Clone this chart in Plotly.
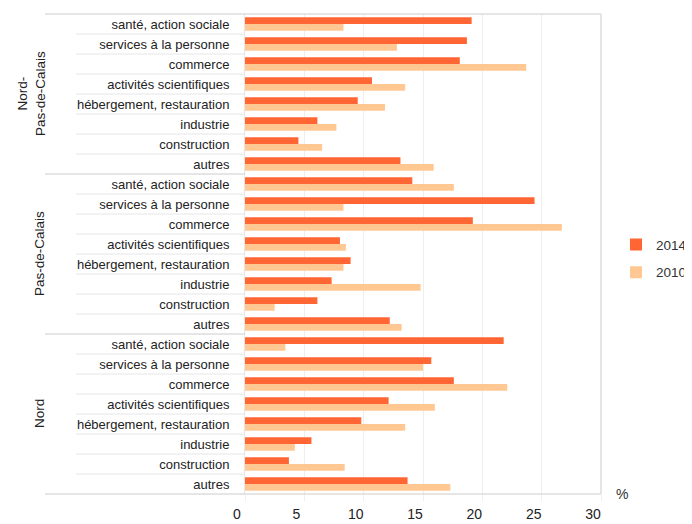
import plotly.graph_objects as go

groups = ["Nord-<br>Pas-de-Calais", "Pas-de-Calais", "Nord"]
group_keys = ["NPDC", "PDC", "N"]
sectors = ["santé, action sociale", "services à la personne", "commerce",
           "activités scientifiques", "hébergement, restauration", "industrie",
           "construction", "autres"]

npdc_2014 = [19.1, 18.7, 18.1, 10.7, 9.5, 6.1, 4.5, 13.1]
npdc_2010 = [8.3, 12.8, 23.7, 13.5, 11.8, 7.7, 6.5, 15.9]
pdc_2014 = [14.1, 24.4, 19.2, 8.0, 8.9, 7.3, 6.1, 12.2]
pdc_2010 = [17.6, 8.3, 26.7, 8.5, 8.3, 14.8, 2.5, 13.2]
nord_2014 = [21.8, 15.7, 17.6, 12.1, 9.8, 5.6, 3.7, 13.7]
nord_2010 = [3.4, 15.0, 22.1, 16.0, 13.5, 4.2, 8.4, 17.3]

x_ticks = [0, 5, 10, 15, 20, 25, 30]

cats = [f"{g}|{s}" for g in group_keys for s in sectors]
labels = [s for g in group_keys for s in sectors]
v2014 = npdc_2014 + pdc_2014 + nord_2014
v2010 = npdc_2010 + pdc_2010 + nord_2010

C2014 = "#ff6633"
C2010 = "#ffc893"
FONT = "Liberation Sans"

fig = go.Figure()
fig.add_trace(go.Bar(y=cats, x=v2014, orientation="h", name="2014",
                     marker=dict(color=C2014, line=dict(width=0)), legendgroup="a"))
fig.add_trace(go.Bar(y=cats, x=v2010, orientation="h", name="2010",
                     marker=dict(color=C2010, line=dict(width=0)), legendgroup="b"))

# page has an 8px body margin; figure coordinates = page - 8
OFF = 8
W, H = 684, 516
L, T = 245 - OFF, 14 - OFF
R = W - (601 - OFF)
B = H - (494 - OFF)
pw = W - L - R

def xp(page_x):
    return (page_x - OFF - L) / pw

shapes = []
n = len(cats)
for i in range(1, n):
    is_group = (i % len(sectors) == 0)
    shapes.append(dict(type="line", xref="paper", yref="y",
                       x0=xp(45 if is_group else 76), x1=0,
                       y0=i - 0.5, y1=i - 0.5,
                       line=dict(color="#cccccc" if is_group else "#e6e6e6", width=1)))
for yv in (0, 1):
    shapes.append(dict(type="line", xref="paper", yref="paper",
                       x0=xp(45), x1=1, y0=yv, y1=yv,
                       line=dict(color="#cccccc", width=1)))
shapes.append(dict(type="line", xref="paper", yref="paper", x0=1, x1=1, y0=0, y1=1,
                   line=dict(color="#dddddd", width=1.5)))

annotations = []
for gi, g in enumerate(groups):
    center = gi * len(sectors) + (len(sectors) - 1) / 2
    nlines = g.count("<br>") + 1
    annotations.append(dict(text=g, xref="paper", yref="y", x=xp(39 - 8 * (nlines - 1)), y=center,
                            showarrow=False, textangle=-90, xanchor="center", yanchor="middle",
                            font=dict(family=FONT, size=13.5, color="#222")))
annotations.append(dict(text="%", xref="paper", yref="paper", x=xp(622), y=0,
                        showarrow=False, xanchor="center", yanchor="middle",
                        font=dict(family=FONT, size=14, color="#333")))

fig.update_layout(
    width=W, height=H,
    margin=dict(l=L, r=R, t=T, b=B, pad=0, autoexpand=False),
    paper_bgcolor="white", plot_bgcolor="white",
    barmode="group", bargap=0.33, bargroupgap=0,
    font=dict(family=FONT, size=13, color="#333"),
    showlegend=True,
    legend=dict(x=xp(692), y=0.49, xanchor="right", yanchor="middle",
                font=dict(family=FONT, size=13.5, color="#333"),
                tracegroupgap=7, itemwidth=30, bgcolor="rgba(0,0,0,0)",
                borderwidth=0),
    shapes=shapes,
    annotations=annotations,
    xaxis=dict(range=[0, 30], tickvals=x_ticks, showgrid=True, gridcolor="#eeeeee",
               gridwidth=1, zeroline=False, showline=False, automargin=False,
               ticks="outside", ticklen=6, tickcolor="#eeeeee",
               tickfont=dict(family=FONT, size=14, color="#222"),
               ticklabelstandoff=1, ticklabelshift=-8, fixedrange=True),
    yaxis=dict(categoryorder="array", categoryarray=cats, autorange="reversed",
               tickvals=cats, ticktext=labels, showgrid=False, zeroline=False,
               showline=True, linecolor="#e6e6e6", linewidth=1, ticks="",
               automargin=False,
               tickfont=dict(family=FONT, size=13, color="#222"),
               ticklabelstandoff=12, fixedrange=True),
)

fig.write_html("out.html")
